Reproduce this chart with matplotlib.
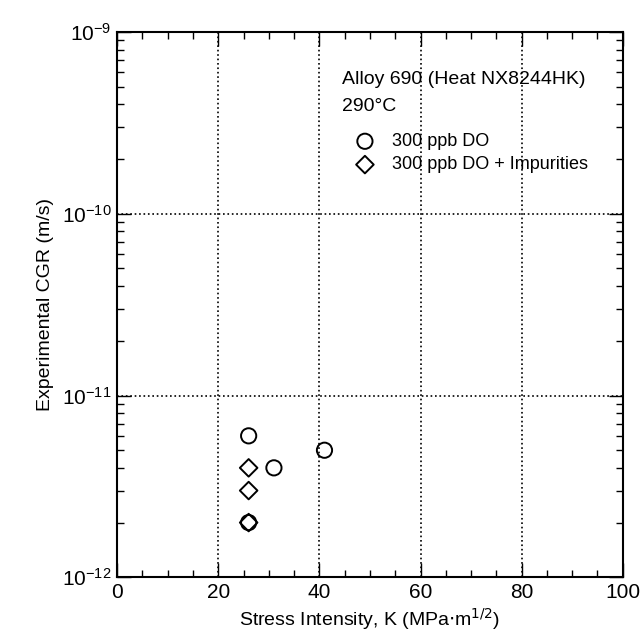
import matplotlib
matplotlib.use('Agg')
import matplotlib.pyplot as plt
from matplotlib.ticker import MultipleLocator, LogLocator, NullFormatter

plt.rcParams['font.family'] = ['Liberation Sans', 'DejaVu Sans']

# Data
k_do = [26, 31, 41, 26]
cgr_do = [6e-12, 4e-12, 5e-12, 2e-12]

k_imp = [26, 26, 26]
cgr_imp = [4e-12, 3e-12, 2e-12]

fig = plt.figure(figsize=(6.44, 6.40), dpi=100)
ax = fig.add_axes([0.182, 0.098, 0.785, 0.852])

ax.scatter(k_do, cgr_do, s=120, marker='o', facecolors='none',
           edgecolors='black', linewidths=1.4, label='300 ppb DO', zorder=3)
ax.scatter(k_imp, cgr_imp, s=80, marker='D', facecolors='none',
           edgecolors='black', linewidths=1.4, label='300 ppb DO + Impurities',
           zorder=3)

ax.set_yscale('log')
ax.set_xlim(0, 100)
ax.set_ylim(1e-12, 1e-9)

ax.xaxis.set_major_locator(MultipleLocator(20))
ax.xaxis.set_minor_locator(MultipleLocator(5))
ax.yaxis.set_major_locator(LogLocator(base=10, numticks=10))
ax.yaxis.set_minor_locator(LogLocator(base=10, subs=range(2, 10), numticks=10))
ax.yaxis.set_minor_formatter(NullFormatter())

ax.tick_params(which='both', direction='in', top=True, right=True)
ax.tick_params(which='major', length=10, width=1, labelsize=15, pad=4)
ax.tick_params(which='minor', length=5, width=1)

ax.grid(True, which='major', linestyle=':', color='black', linewidth=1.2)

for s in ax.spines.values():
    s.set_linewidth(1.5)

ax.set_xlabel('Stress Intensity, K (MPa$\\cdot$m$^{1/2}$)', fontsize=14, labelpad=3)
ax.set_ylabel('Experimental CGR (m/s)', fontsize=14, labelpad=6)

ax.text(0.445, 0.912, 'Alloy 690 (Heat NX8244HK)', transform=ax.transAxes,
        fontsize=14, va='center', ha='left')
ax.text(0.445, 0.864, '290°C', transform=ax.transAxes,
        fontsize=14, va='center', ha='left')

ax.legend(loc='upper left', bbox_to_anchor=(0.44, 0.828), frameon=False,
          fontsize=13, handletextpad=0.5, labelspacing=0.35,
          borderaxespad=0)

fig.savefig('out.png', dpi=100, facecolor='white')
